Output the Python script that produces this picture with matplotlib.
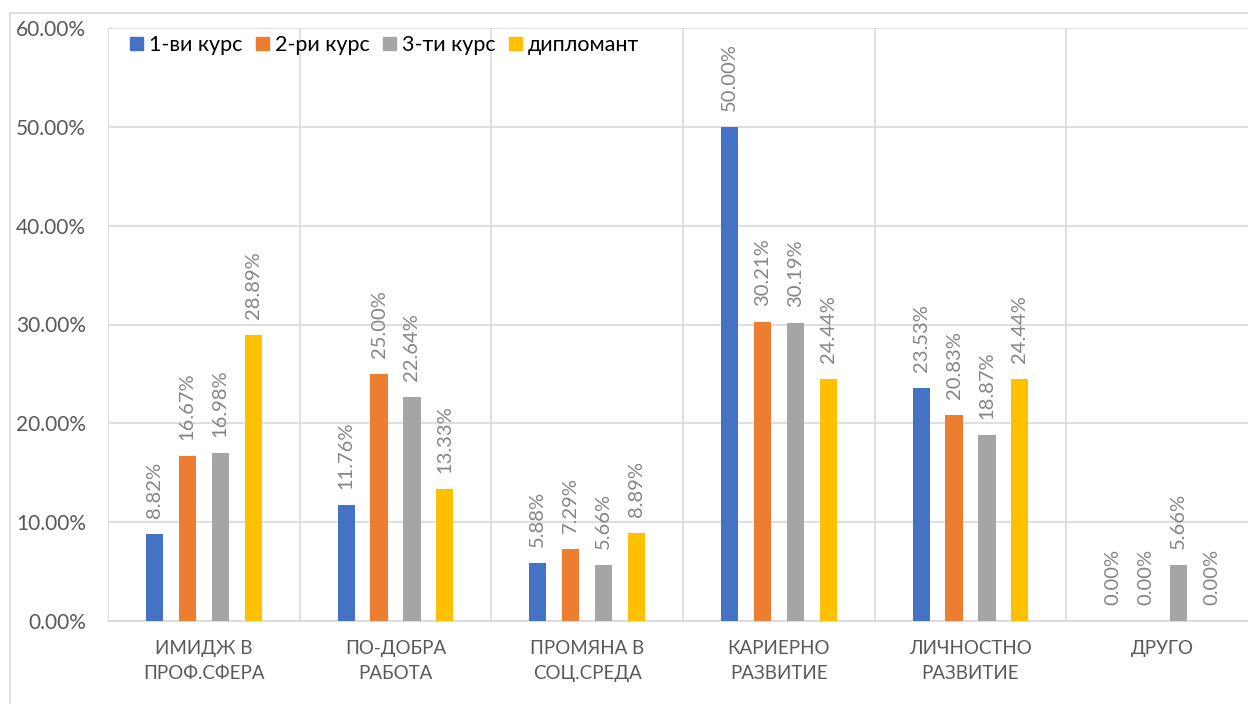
import matplotlib
matplotlib.use("Agg")
import matplotlib.pyplot as plt
import numpy as np
from matplotlib.patches import Patch, Rectangle

plt.rcParams['font.family'] = ['Lato', 'DejaVu Sans']

# данни
categories = ['ИМИДЖ В\nПРОФ.СФЕРА', 'ПО-ДОБРА\nРАБОТА', 'ПРОМЯНА В\nСОЦ.СРЕДА',
              'КАРИЕРНО\nРАЗВИТИЕ', 'ЛИЧНОСТНО\nРАЗВИТИЕ', 'ДРУГО']
series_names = ['1-ви курс', '2-ри курс', '3-ти курс', 'дипломант']
kurs1 = [8.82, 11.76, 5.88, 50.00, 23.53, 0.00]
kurs2 = [16.67, 25.00, 7.29, 30.21, 20.83, 0.00]
kurs3 = [16.98, 22.64, 5.66, 30.19, 18.87, 5.66]
diplomant = [28.89, 13.33, 8.89, 24.44, 24.44, 0.00]
y_ticks = [0, 10, 20, 30, 40, 50, 60]

colors = ['#4472C4', '#ED7D31', '#A5A5A5', '#FFC000']
grid_c = '#D9D9D9'

fig = plt.figure(figsize=(12.48, 7.04), dpi=100)
ax = fig.add_axes([108 / 1248, 1 - 621 / 704, 1150 / 1248, (621 - 28) / 704])

# рамка на диаграмата
fig.patches.append(Rectangle((10 / 1248, -0.01), 1.1, 1 - 13 / 704 + 0.01,
                             transform=fig.transFigure, fill=False,
                             edgecolor=grid_c, linewidth=1.2))

x = np.arange(len(categories))
step = 0.172
width = 0.089
all_series = [kurs1, kurs2, kurs3, diplomant]
for i, (vals, name, c) in enumerate(zip(all_series, series_names, colors)):
    pos = x + (i - 1.5) * step
    ax.bar(pos, vals, width=width, color=c, label=name, zorder=3)
    for px, v in zip(pos, vals):
        ax.annotate(f'{v:.2f}%', (px, v), xytext=(0, 11.5), textcoords='offset points',
                    rotation=90, ha='center', va='bottom', fontsize=14.5,
                    color='#858585', zorder=4)

ax.set_xlim(-0.5, len(categories) - 0.5)
ax.set_ylim(0, 60)
ax.set_yticks(y_ticks)
ax.set_yticklabels([f'{t:.2f}%' for t in y_ticks])
ax.set_xticks(x)
ax.set_xticklabels(categories, linespacing=1.55)
ax.set_xticks(np.arange(-0.5, len(categories)), minor=True)

ax.grid(axis='y', color=grid_c, linewidth=1.2, zorder=0)
ax.grid(axis='x', which='minor', color=grid_c, linewidth=1.2, zorder=0)
for s in ['top', 'right', 'left']:
    ax.spines[s].set_visible(False)
ax.spines['bottom'].set_color(grid_c)
ax.spines['bottom'].set_linewidth(1.2)
ax.tick_params(axis='both', which='both', length=0)
ax.tick_params(axis='y', labelsize=15, labelcolor='#595959', pad=16)
ax.tick_params(axis='x', labelsize=13.5, labelcolor='#595959', pad=14)

handles = [Patch(color=c, label=n) for c, n in zip(colors, series_names)]
ax.legend(handles=handles, loc='upper left', bbox_to_anchor=(0.008, 1.01), ncol=4,
          frameon=False, fontsize=15.5, handlelength=0.6, handleheight=0.6,
          handletextpad=0.3, columnspacing=0.6, borderaxespad=0.2)

fig.savefig('out.png', dpi=100)
